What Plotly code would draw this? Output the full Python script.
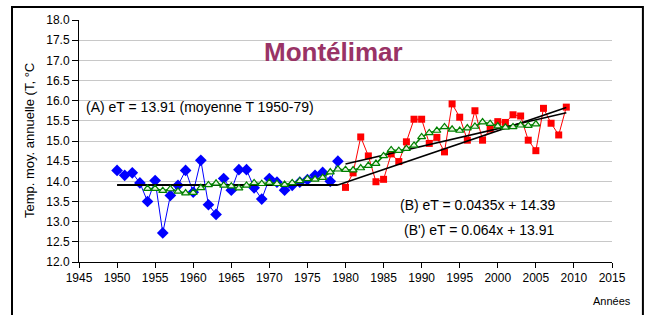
import plotly.graph_objects as go

# Data
years_blue = list(range(1950, 1980))
temp_blue = [14.27, 14.15, 14.21, 13.96, 13.50, 14.02, 12.72, 13.65, 13.90, 14.27,
             13.73, 14.52, 13.42, 13.18, 14.07, 13.78, 14.29, 14.29, 13.84, 13.56,
             14.07, 13.98, 13.78, 13.90, 13.98, 14.04, 14.15, 14.22, 14.00, 14.50]

years_red = list(range(1980, 2010))
temp_red = [13.85, 14.21, 15.10, 14.63, 13.99, 14.05, 14.68, 14.49, 14.98, 15.54,
            15.54, 14.94, 15.09, 14.73, 15.92, 15.59, 15.02, 15.75, 15.02, 15.30,
            15.48, 15.46, 15.65, 15.62, 15.02, 14.76, 15.81, 15.44, 15.15, 15.84]

years_green = list(range(1954, 2006))
temp_green = [13.82, 13.82, 13.77, 13.81, 13.75, 13.71, 13.72, 13.84, 13.91, 13.95,
              13.90, 13.88, 13.83, 13.90, 13.96, 13.94, 13.97, 13.94, 13.92, 13.96,
              14.01, 14.06, 14.05, 14.09, 14.23, 14.30, 14.29, 14.28, 14.33, 14.39,
              14.44, 14.63, 14.78, 14.76, 14.81, 14.89, 15.10, 15.20, 15.26, 15.35,
              15.29, 15.26, 15.32, 15.36, 15.47, 15.43, 15.37, 15.34, 15.35, 15.39,
              15.38, 15.42]

# Trend lines (end points)
trendA_years = [1950, 1979]
trendA_vals = [13.91, 13.91]
trendB_years = [1980, 2009]
trendB_vals = [14.43, 15.70]
trendBp_years = [1979, 2009]
trendBp_vals = [13.91, 15.83]

x_ticks = list(range(1945, 2016, 5))
y_ticks = [12 + 0.5 * i for i in range(13)]

FONT = "Liberation Sans, Arial, sans-serif"

fig = go.Figure()

fig.add_trace(go.Scatter(x=years_blue, y=temp_blue, mode="lines+markers",
                         line=dict(color="#0000FF", width=1),
                         marker=dict(symbol="diamond", size=9, color="#0000FF"),
                         showlegend=False))
fig.add_trace(go.Scatter(x=years_red, y=temp_red, mode="lines+markers",
                         line=dict(color="#FF0000", width=1),
                         marker=dict(symbol="square", size=7, color="#FF0000"),
                         showlegend=False))
fig.add_trace(go.Scatter(x=trendA_years, y=trendA_vals, mode="lines",
                         line=dict(color="black", width=2), showlegend=False))
fig.add_trace(go.Scatter(x=trendB_years, y=trendB_vals, mode="lines",
                         line=dict(color="black", width=1.6), showlegend=False))
fig.add_trace(go.Scatter(x=trendBp_years, y=trendBp_vals, mode="lines",
                         line=dict(color="black", width=1.6), showlegend=False))
fig.add_trace(go.Scatter(x=years_green, y=temp_green, mode="lines+markers",
                         line=dict(color="#008000", width=1.5),
                         marker=dict(symbol="triangle-up", size=7, color="#E8F5E0",
                                     line=dict(color="#008000", width=1.2)),
                         showlegend=False))

fig.update_layout(
    width=646, height=315,
    margin=dict(l=79, r=34, t=20, b=53),
    paper_bgcolor="white", plot_bgcolor="white",
    font=dict(family=FONT, size=12, color="black"),
    xaxis=dict(range=[1945, 2015], tickvals=x_ticks, ticktext=[str(v) for v in x_ticks],
               showgrid=False, zeroline=False, showline=True, linecolor="black",
               linewidth=1, ticks="outside", ticklen=5, tickcolor="black",
               tickfont=dict(size=12)),
    yaxis=dict(range=[12, 18], tickvals=y_ticks, ticktext=[f"{v:.1f}" for v in y_ticks],
               showgrid=True, gridcolor="#C8C8C8", gridwidth=1, zeroline=False,
               showline=True, linecolor="black", linewidth=1, ticks="outside",
               ticklen=6, tickcolor="black", tickfont=dict(size=12)),
    annotations=[
        dict(text="<b>Montélimar</b>", x=0.478, y=0.869, xref="paper", yref="paper",
             xanchor="center", yanchor="middle", showarrow=False,
             font=dict(size=26, color="#993366", family=FONT)),
        dict(text="(A) eT = 13.91 (moyenne T 1950-79)", x=0.0094, y=0.64,
             xref="paper", yref="paper", xanchor="left", yanchor="middle",
             showarrow=False, font=dict(size=14)),
        dict(text="(B) eT = 0.0435x + 14.39", x=0.748, y=0.2355,
             xref="paper", yref="paper", xanchor="center", yanchor="middle",
             showarrow=False, font=dict(size=14)),
        dict(text="(B') eT = 0.064x + 13.91", x=0.751, y=0.132,
             xref="paper", yref="paper", xanchor="center", yanchor="middle",
             showarrow=False, font=dict(size=14)),
        dict(text="Temp. moy. annuelle (T, °C", x=-0.0938, y=0.5, textangle=-90,
             xref="paper", yref="paper", xanchor="center", yanchor="middle",
             showarrow=False, font=dict(size=13)),
        dict(text="Années", x=1.0, y=-0.161, xref="paper", yref="paper",
             xanchor="center", yanchor="middle", showarrow=False,
             font=dict(size=11)),
    ],
    shapes=[
        dict(type="rect", xref="paper", yref="paper", x0=-0.1257, x1=1.058,
             y0=-0.3, y1=1.0537, line=dict(color="black", width=2)),
    ],
)

fig.write_html(
    "out.html",
    config={"displayModeBar": False},
    post_script="document.body.style.margin='0';document.body.style.overflow='hidden';",
)
